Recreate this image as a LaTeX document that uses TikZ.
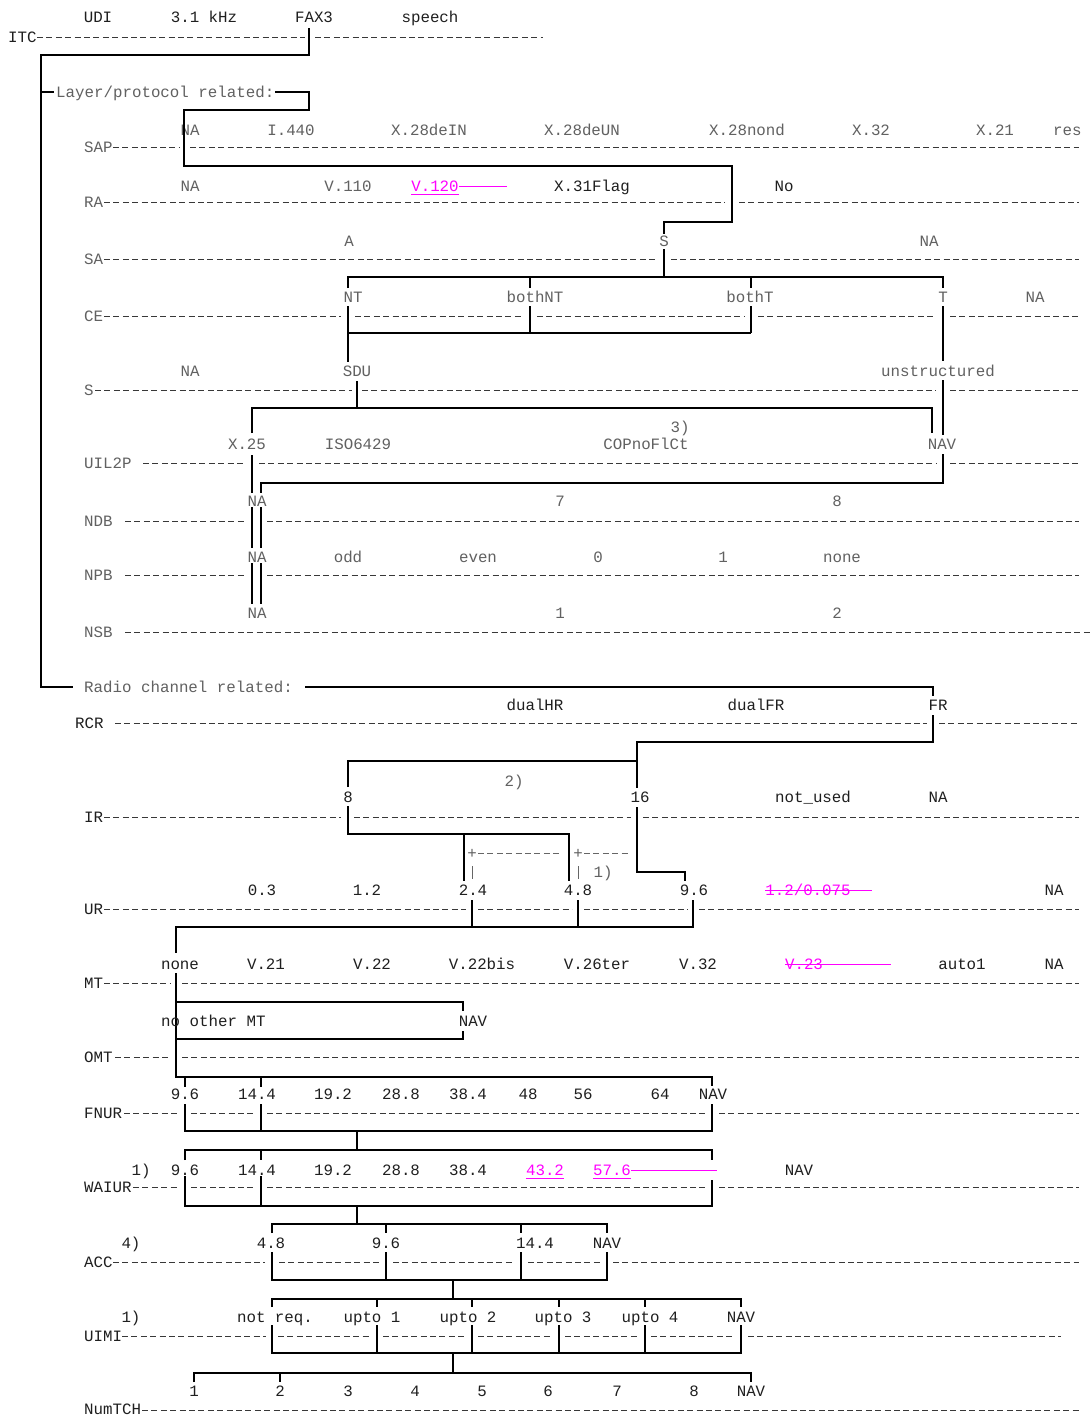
\documentclass[tikz,border=0pt]{standalone}
\usepackage{fontspec}
\newfontfamily\chartmono{Liberation Mono}
\definecolor{hotmag}{RGB}{255,0,255}

\begin{document}
\chartmono\fontsize{15.8}{18}\selectfont
\begin{tikzpicture}[
  x=1pt, y=-1pt,
  txt/.style={font=\chartmono\fontsize{15.8}{18}\selectfont, text=black!88,
    inner sep=0pt, anchor=mid, yshift=-1pt},
  dim/.style={txt, text=black!62},
  hot/.style={txt, text=hotmag},
  rowlbl/.style={anchor=mid west},
  rowline/.style={draw=black!78, line width=1pt, dash pattern=on 6pt off 3.4pt},
  brk/.style={draw=black, line width=1.3pt},
  hotline/.style={draw=hotmag, line width=1pt},
  thinbar/.style={draw=black!60, line width=0.9pt}
]
  \fill[white] (0,0) rectangle (1092,1416);
  \useasboundingbox (0,0) rectangle (1092,1416);

  %% ITC
  \node[txt, rowlbl] (itc) at (8,37) {ITC};
  \foreach \x/\t [count=\i] in {98/UDI, 204/3.1 kHz, 314/FAX3, 430/speech}
    \node[txt] (itc\i) at (\x,17) {\t};
  \draw[rowline] (37,37) -- (305,37) (315,37) -- (543,37);
  \draw[brk] (309,28) -- (309,55) -- (41,55) -- (41,687) -- (73,687);

  %% LAYER / PROTOCOL RELATED
  \node[dim, rowlbl] (layer) at (56,92) {Layer/protocol related:};
  \draw[brk] (41,92) -- (54,92);
  \draw[brk] (275,92) -- (309,92) -- (309,110) -- (184,110) -- (184,120);

  %% SAP
  \node[dim, rowlbl] (sapL) at (84,147) {SAP};
  \foreach \x/\t [count=\i] in {190/NA, 291/I.440, 429/X.28deIN, 582/X.28deUN,
      747/X.28nond, 871/X.32, 995/X.21}
    \node[dim] (sap\i) at (\x,130) {\t};
  \node[dim, rowlbl] (sap8) at (1053,130) {res};
  \draw[rowline] (113,147) -- (179,147) (190,147) -- (1079,147);
  \draw[brk] (184,120) -- (184,166) -- (732,166) -- (732,222) -- (664,222) -- (664,234);

  %% RA
  \node[dim, rowlbl] (raL) at (84,202) {RA};
  \foreach \x/\t [count=\i] in {190/NA, 348/V.110}
    \node[dim] (ra\i) at (\x,186) {\t};
  \node[hot] (ra3) at (435,186) {V.120};
  \draw[hotline] ([yshift=-2.5pt]ra3.south west) -- ([yshift=-2.5pt]ra3.south east);
  \draw[hotline] (459,186) -- (507,186);
  \node[txt] (ra4) at (592,186) {X.31Flag};
  \node[txt] (ra5) at (784,186) {No};
  \draw[rowline] (104,202) -- (725,202) (739,202) -- (1079,202);

  %% SA
  \node[dim, rowlbl] (saL) at (84,259) {SA};
  \foreach \x/\t [count=\i] in {349/A, 664/S, 929/NA}
    \node[dim] (sa\i) at (\x,241) {\t};
  \draw[rowline] (104,259) -- (657,259) (671,259) -- (1079,259);
  \draw[brk] (664,249) -- (664,277);
  \draw[brk] (348,288) -- (348,277) -- (943,277) -- (943,288);
  \draw[brk] (530,277) -- (530,288) (751,277) -- (751,288);

  %% CE
  \node[dim, rowlbl] (ceL) at (84,316) {CE};
  \foreach \x/\t [count=\i] in {353/NT, 535/bothNT, 750/bothT, 943/T, 1035/NA}
    \node[dim] (ce\i) at (\x,297) {\t};
  \draw[rowline] (104,316) -- (341,316) (355,316) -- (523,316) (537,316) -- (744,316)
    (758,316) -- (936,316) (950,316) -- (1079,316);
  \draw[brk] (348,306) -- (348,362) (530,306) -- (530,333) (751,306) -- (751,333);
  \draw[brk] (348,333) -- (751,333);
  \draw[brk] (943,306) -- (943,361) (943,380) -- (943,435);
  \draw[brk] (943,454) -- (943,483) -- (261,483) -- (261,493);

  %% S
  \node[dim, rowlbl] (sL) at (84,390) {S};
  \foreach \x/\t [count=\i] in {190/NA, 357/SDU, 938/unstructured}
    \node[dim] (s\i) at (\x,371) {\t};
  \draw[rowline] (95,390) -- (352,390) (362,390) -- (936,390) (950,390) -- (1079,390);
  \draw[brk] (357,381) -- (357,408);
  \draw[brk] (252,433) -- (252,408) -- (932,408) -- (932,433);

  %% UIL2P
  \node[dim, rowlbl] (uilL) at (84,463) {UIL2P};
  \foreach \x/\t [count=\i] in {247/X.25, 358/ISO6429, 646/COPnoFlCt, 942/NAV}
    \node[dim] (uil\i) at (\x,444) {\t};
  \node[dim] (uil5) at (680,427) {3)};
  \draw[rowline] (143,463) -- (245,463) (259,463) -- (936,463) (950,463) -- (1079,463);
  \draw[brk] (252,455) -- (252,493) (252,507) -- (252,548) (252,563) -- (252,604);
  \draw[brk] (261,507) -- (261,548) (261,563) -- (261,604);

  %% NDB
  \node[dim, rowlbl] (ndbL) at (84,521) {NDB};
  \foreach \x/\t [count=\i] in {257/NA, 560/7, 837/8}
    \node[dim] (ndb\i) at (\x,501) {\t};
  \draw[rowline] (125,521) -- (245,521) (267,521) -- (1079,521);

  %% NPB
  \node[dim, rowlbl] (npbL) at (84,575) {NPB};
  \foreach \x/\t [count=\i] in {257/NA, 348/odd, 478/even, 598/0, 723/1, 842/none}
    \node[dim] (npb\i) at (\x,557) {\t};
  \draw[rowline] (125,575) -- (245,575) (267,575) -- (1079,575);

  %% NSB
  \node[dim, rowlbl] (nsbL) at (84,632) {NSB};
  \foreach \x/\t [count=\i] in {257/NA, 560/1, 837/2}
    \node[dim] (nsb\i) at (\x,613) {\t};
  \draw[rowline] (125,632) -- (1092,632);

  %% RADIO CHANNEL RELATED
  \node[dim, rowlbl] (radio) at (84,687) {Radio channel related:};
  \draw[brk] (305,687) -- (933,687) -- (933,696);
  \draw[brk] (933,715) -- (933,742) -- (637,742) -- (637,788);
  \draw[brk] (348,787) -- (348,761) -- (637,761);
  \draw[brk] (637,807) -- (637,872) -- (685,872) -- (685,881);

  %% RCR
  \node[txt, rowlbl] (rcrL) at (75,723) {RCR};
  \foreach \x/\t [count=\i] in {535/dualHR, 756/dualFR, 938/FR}
    \node[txt] (rcr\i) at (\x,705) {\t};
  \draw[rowline] (115,723) -- (927,723) (939,723) -- (1079,723);

  %% IR
  \node[txt, rowlbl] (irL) at (84,817) {IR};
  \foreach \x/\t [count=\i] in {348/8, 640/16, 813/not\_used, 938/NA}
    \node[txt] (ir\i) at (\x,797) {\t};
  \node[dim] (ir5) at (514,781) {2)};
  \node[dim] (ir6) at (603,872) {1)};
  \draw[rowline] (104,817) -- (341,817) (354,817) -- (631,817) (643,817) -- (1079,817);
  \draw[brk] (348,806) -- (348,834) -- (569,834) -- (569,881);
  \draw[brk] (464,834) -- (464,881);
  \node[dim] (plusA) at (472,853) {+};
  \node[dim] (plusB) at (578,853) {+};
  \draw[rowline, draw=black!60] (478,853) -- (562,853) (584,853) -- (630,853);
  \draw[thinbar] (472,866) -- (472,879) (578,866) -- (578,879);

  %% UR
  \node[txt, rowlbl] (urL) at (84,909) {UR};
  \foreach \x/\t [count=\i] in {262/0.3, 367/1.2, 473/2.4, 578/4.8, 694/9.6, 1054/NA}
    \node[txt] (ur\i) at (\x,890) {\t};
  \node[hot] (ur7) at (808,890) {1.2/0.075};
  \draw[hotline] (765,890) -- (872,890);
  \draw[rowline] (104,909) -- (466,909) (478,909) -- (572,909) (584,909) -- (688,909)
    (699,909) -- (1079,909);
  \draw[brk] (472,900) -- (472,927) (578,900) -- (578,927);
  \draw[brk] (693,900) -- (693,927) -- (176,927) -- (176,953);

  %% MT
  \node[txt, rowlbl] (mtL) at (84,983) {MT};
  \foreach \x/\t [count=\i] in {180/none, 266/V.21, 372/V.22, 482/V.22bis, 597/V.26ter,
      698/V.32, 962/auto1, 1054/NA}
    \node[txt] (mt\i) at (\x,964) {\t};
  \node[hot] (mt9) at (804,964) {V.23};
  \draw[hotline] (785,964) -- (891,964);
  \draw[rowline] (104,983) -- (171,983) (182,983) -- (1079,983);
  \draw[brk] (176,973) -- (176,1077) -- (712,1077) -- (712,1086);
  \draw[brk] (176,1002) -- (463,1002) -- (463,1011);
  \draw[brk] (463,1031) -- (463,1039) -- (176,1039);

  %% OMT
  \node[txt, rowlbl] (omtL) at (84,1057) {OMT};
  \node[txt, rowlbl] (omt1) at (161,1021) {no other MT};
  \node[txt] (omt2) at (473,1021) {NAV};
  \draw[rowline] (115,1057) -- (171,1057) (182,1057) -- (1079,1057);
  \draw[brk] (185,1077) -- (185,1087) (261,1077) -- (261,1087);

  %% FNUR
  \node[txt, rowlbl] (fnurL) at (84,1113) {FNUR};
  \foreach \x/\t [count=\i] in {185/9.6, 257/14.4, 333/19.2, 401/28.8, 468/38.4,
      528/48, 583/56, 660/64, 713/NAV}
    \node[txt] (fnur\i) at (\x,1094) {\t};
  \draw[rowline] (124,1113) -- (179,1113) (191,1113) -- (256,1113) (267,1113) -- (706,1113)
    (719,1113) -- (1079,1113);
  \draw[brk] (185,1104) -- (185,1131) -- (712,1131) -- (712,1104);
  \draw[brk] (261,1104) -- (261,1131) (357,1131) -- (357,1150);

  %% WAIUR
  \node[txt, rowlbl] (waiurL) at (84,1187) {WAIUR};
  \foreach \x/\t [count=\i] in {141/1), 185/9.6, 257/14.4, 333/19.2, 401/28.8,
      468/38.4, 799/NAV}
    \node[txt] (waiur\i) at (\x,1170) {\t};
  \node[hot] (waiur8) at (545,1170) {43.2};
  \node[hot] (waiur9) at (612,1170) {57.6};
  \draw[hotline] ([yshift=-2.5pt]waiur8.south west) -- ([yshift=-2.5pt]waiur8.south east);
  \draw[hotline] ([yshift=-2.5pt]waiur9.south west) -- ([yshift=-2.5pt]waiur9.south east);
  \draw[hotline] (631,1170) -- (717,1170);
  \draw[brk] (185,1160) -- (185,1150) -- (712,1150) -- (712,1160) (261,1150) -- (261,1160);
  \draw[rowline] (133,1187) -- (179,1187) (191,1187) -- (256,1187) (267,1187) -- (706,1187)
    (719,1187) -- (1079,1187);
  \draw[brk] (185,1176) -- (185,1206) -- (712,1206) -- (712,1180);
  \draw[brk] (261,1176) -- (261,1206) (357,1206) -- (357,1224);

  %% ACC
  \node[txt, rowlbl] (accL) at (84,1262) {ACC};
  \foreach \x/\t [count=\i] in {131/4), 271/4.8, 386/9.6, 535/14.4, 607/NAV}
    \node[txt] (acc\i) at (\x,1243) {\t};
  \draw[brk] (272,1233) -- (272,1224) -- (607,1224) -- (607,1233);
  \draw[brk] (386,1224) -- (386,1233) (521,1224) -- (521,1233);
  \draw[rowline] (113,1262) -- (265,1262) (279,1262) -- (380,1262) (393,1262) -- (515,1262)
    (528,1262) -- (601,1262) (613,1262) -- (1079,1262);
  \draw[brk] (272,1252) -- (272,1280) -- (607,1280) -- (607,1252);
  \draw[brk] (386,1252) -- (386,1280) (521,1252) -- (521,1280) (453,1280) -- (453,1299);

  %% UIMI
  \node[txt, rowlbl] (uimiL) at (84,1336) {UIMI};
  \foreach \x/\t [count=\i] in {131/1), 275/not req., 372/upto 1, 468/upto 2,
      563/upto 3, 650/upto 4, 741/NAV}
    \node[txt] (uimi\i) at (\x,1317) {\t};
  \draw[brk] (272,1307) -- (272,1299) -- (741,1299) -- (741,1307);
  \foreach \x in {377,472,559,645}
    \draw[brk] (\x,1299) -- (\x,1307) (\x,1325) -- (\x,1353);
  \draw[rowline] (122,1336) -- (266,1336) (278,1336) -- (371,1336) (383,1336) -- (466,1336)
    (478,1336) -- (553,1336) (565,1336) -- (639,1336) (651,1336) -- (735,1336)
    (748,1336) -- (1061,1336);
  \draw[brk] (272,1325) -- (272,1353) -- (741,1353) -- (741,1325);
  \draw[brk] (453,1353) -- (453,1373);

  %% NumTCH
  \node[txt, rowlbl] (numL) at (84,1409) {NumTCH};
  \foreach \x/\t [count=\i] in {194/1, 280/2, 348/3, 415/4, 482/5, 548/6, 617/7, 694/8, 751/NAV}
    \node[txt] (num\i) at (\x,1391) {\t};
  \draw[brk] (194,1382) -- (194,1373) -- (751,1373) -- (751,1382) (280,1373) -- (280,1382);
  \draw[rowline] (142,1410) -- (1080,1410);

\end{tikzpicture}
\end{document}
